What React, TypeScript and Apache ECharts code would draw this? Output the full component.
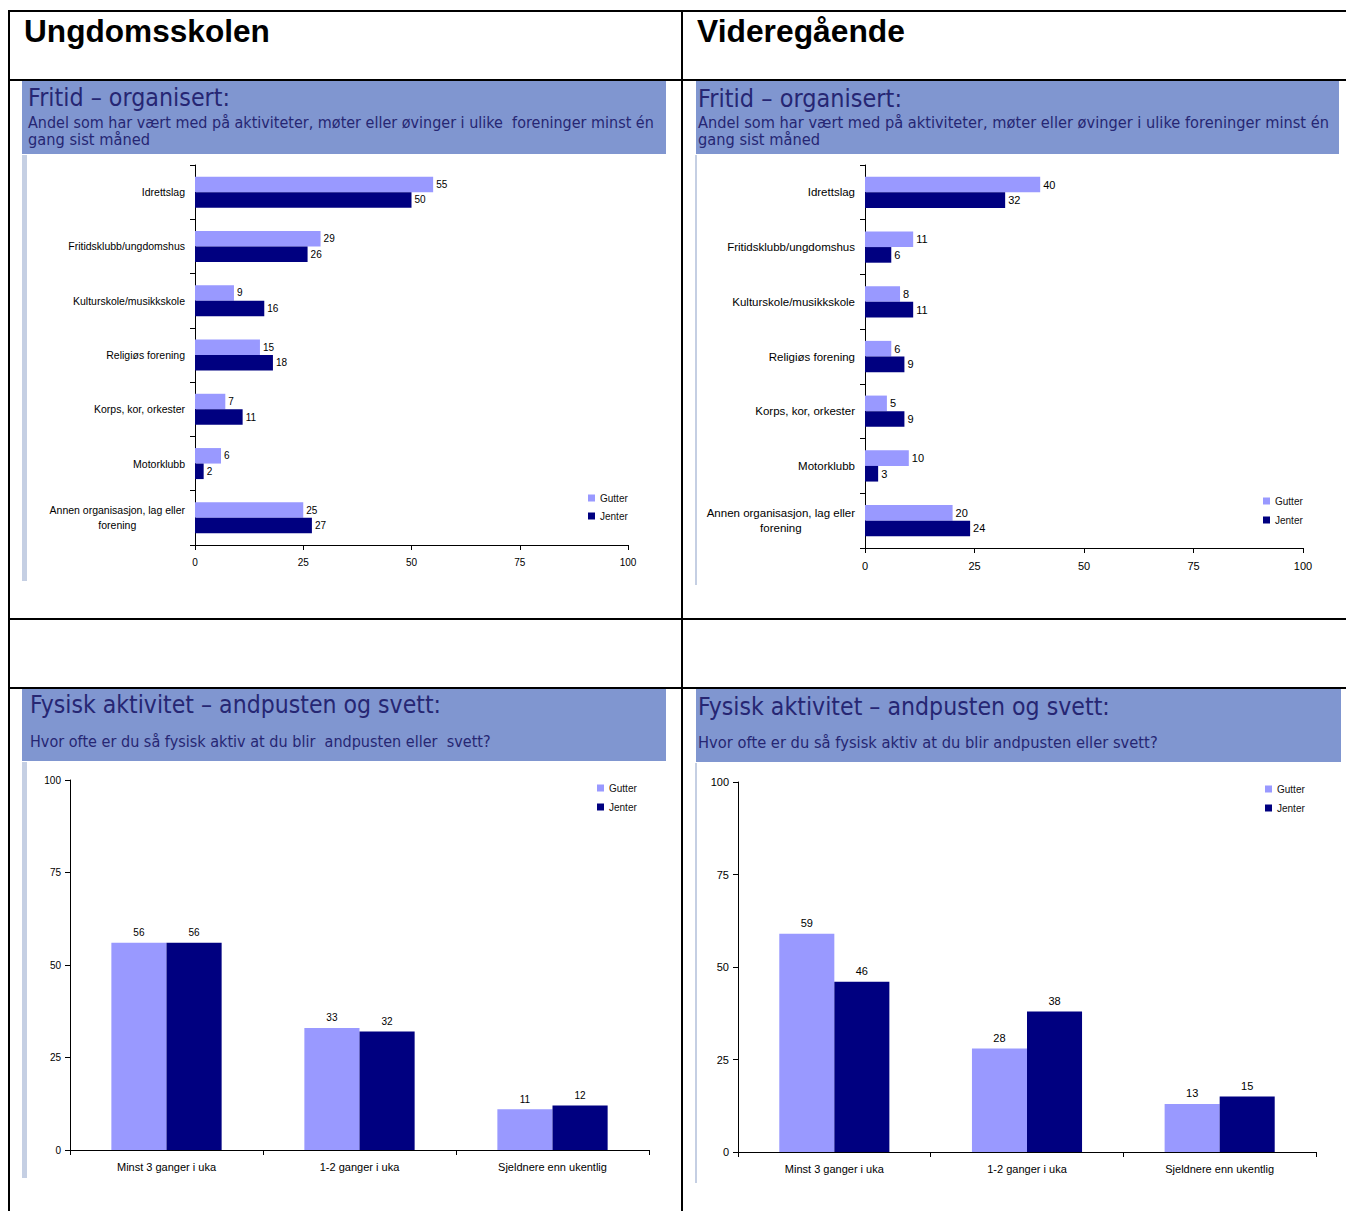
import React, { useEffect, useRef } from 'react';
import * as echarts from 'echarts';

// ---------- Data ----------
const fritidCategories = [
  'Idrettslag',
  'Fritidsklubb/ungdomshus',
  'Kulturskole/musikkskole',
  'Religiøs forening',
  'Korps, kor, orkester',
  'Motorklubb',
  'Annen organisasjon, lag eller\nforening',
];
const ungFritidGutter = [55, 29, 9, 15, 7, 6, 25];
const ungFritidJenter = [50, 26, 16, 18, 11, 2, 27];
const vgsFritidGutter = [40, 11, 8, 6, 5, 10, 20];
const vgsFritidJenter = [32, 6, 11, 9, 9, 3, 24];

const aktivitetCategories = ['Minst 3 ganger i uka', '1-2 ganger i uka', 'Sjeldnere enn ukentlig'];
const ungAktivGutter = [56, 33, 11];
const ungAktivJenter = [56, 32, 12];
const vgsAktivGutter = [59, 28, 13];
const vgsAktivJenter = [46, 38, 15];

const seriesNames = ['Gutter', 'Jenter'];
const valueMin = 0;
const valueMax = 100;
const valueStep = 25;

const panelHeaders = ['Ungdomsskolen', 'Videregående'];
const fritidTitle = 'Fritid – organisert:';
const fritidSubLine1 = 'Andel som har vært med på aktiviteter, møter eller øvinger i ulike  foreninger minst én';
const fritidSubLine2 = 'gang sist måned';
const aktivTitle = 'Fysisk aktivitet – andpusten og svett:';
const aktivSub = 'Hvor ofte er du så fysisk aktiv at du blir  andpusten eller  svett?';

// ---------- Styles ----------
const GUTTER = '#9999ff';
const JENTER = '#000080';
const HEADER_FILL = '#8096d0';
const HEADER_TEXT = '#262673';
const SIDE_BAR = '#c5cfe3';
const AXIS_FONT = '"Liberation Sans", Arial, sans-serif';
const HEAD_FONT = '"DejaVu Sans", sans-serif';

let measureCtx: CanvasRenderingContext2D | null = null;
function measure(text: string, font: string): number {
  if (!measureCtx) measureCtx = document.createElement('canvas').getContext('2d');
  measureCtx!.font = font;
  return measureCtx!.measureText(text).width;
}

function fitText(text: string, x: number, y: number, size: number, target: number, color: string, family: string, weight = 'normal') {
  const font = `${weight} ${size}px ${family}`;
  const w = measure(text, font);
  return {
    type: 'text',
    x,
    y,
    scaleX: target / w,
    z: 10,
    style: { text, font, fill: color, textAlign: 'left', textVerticalAlign: 'middle', align: 'left', verticalAlign: 'middle' },
  };
}

function line(x1: number, y1: number, x2: number, y2: number) {
  return { type: 'line', z: 20, shape: { x1, y1, x2, y2 }, style: { stroke: '#000', lineWidth: 2 } };
}
function rect(x: number, y: number, w: number, h: number, fill: string) {
  return { type: 'rect', z: 1, shape: { x, y, width: w, height: h }, style: { fill } };
}

function fritidCategoryData(fontSize: number) {
  const last = fritidCategories[fritidCategories.length - 1];
  const firstLine = last.split('\n')[0];
  const w = measure(firstLine, `${fontSize}px ${AXIS_FONT}`);
  return fritidCategories.map((c, i) =>
    i === fritidCategories.length - 1 ? { value: c, textStyle: { align: 'center', padding: [0, w, 0, 0] } } : c
  );
}

const axisLineStyle = { show: true, lineStyle: { color: '#000', width: 1 } };
const axisTickStyle = { show: true, length: 5, lineStyle: { color: '#000', width: 1 } };

function valueAxis(gridIndex: number, fontSize: number, margin: number) {
  return {
    type: 'value',
    gridIndex,
    min: valueMin,
    max: valueMax,
    interval: valueStep,
    axisLine: axisLineStyle,
    axisTick: axisTickStyle,
    splitLine: { show: false },
    axisLabel: { fontSize, margin, color: '#000', fontFamily: AXIS_FONT },
  };
}

function barSeries(idx: number, name: string, data: number[], color: string, horizontal: boolean, fontSize: number) {
  return {
    type: 'bar',
    name,
    xAxisIndex: idx,
    yAxisIndex: idx,
    data,
    barGap: '0%',
    barCategoryGap: '42.86%',
    itemStyle: { color },
    label: {
      show: true,
      position: horizontal ? 'right' : 'top',
      distance: horizontal ? 3 : 5,
      fontSize,
      color: '#000',
      fontFamily: AXIS_FONT,
    },
  };
}

function legend(left: number, top: number, gap: number) {
  return {
    data: seriesNames,
    orient: 'vertical',
    left,
    top,
    padding: 0,
    itemWidth: 7,
    itemHeight: 7,
    itemGap: gap,
    icon: 'rect',
    selectedMode: false,
    textStyle: { fontSize: 10, color: '#111', fontFamily: AXIS_FONT },
  };
}

export default function App() {
  const ref = useRef<HTMLDivElement>(null);
  useEffect(() => {
    if (!ref.current) return;
    const chart = echarts.init(ref.current, undefined, { renderer: 'svg' });

    const graphics: any[] = [
      // header boxes
      rect(22, 81, 644, 73, HEADER_FILL),
      rect(696, 81, 643, 73, HEADER_FILL),
      rect(22, 689, 644, 72, HEADER_FILL),
      rect(696, 689, 645, 73, HEADER_FILL),
      // side bars
      rect(22, 155, 5, 426, SIDE_BAR),
      rect(695, 155, 2, 430, SIDE_BAR),
      rect(22, 762, 5, 416, SIDE_BAR),
      rect(695, 763, 2, 420, SIDE_BAR),
      // table borders
      line(8, 11, 1346, 11),
      line(9, 10, 9, 1211),
      line(682, 10, 682, 1211),
      line(8, 80, 1346, 80),
      line(8, 619, 1346, 619),
      line(8, 688, 1346, 688),
      // panel headers
      fitText(panelHeaders[0], 24, 31, 32, 246, '#000', '"Liberation Sans", Arial, sans-serif', 'bold'),
      fitText(panelHeaders[1], 697, 31, 32, 208, '#000', '"Liberation Sans", Arial, sans-serif', 'bold'),
      // Fritid headers
      fitText(fritidTitle, 28, 98, 24, 202, HEADER_TEXT, HEAD_FONT),
      fitText(fritidSubLine1, 28, 122, 15, 626, HEADER_TEXT, HEAD_FONT),
      fitText(fritidSubLine2, 28, 139, 15, 122, HEADER_TEXT, HEAD_FONT),
      fitText(fritidTitle, 698, 98, 24, 204, HEADER_TEXT, HEAD_FONT),
      fitText(fritidSubLine1.replace('  ', ' '), 698, 122, 15, 631, HEADER_TEXT, HEAD_FONT),
      fitText(fritidSubLine2, 698, 139, 15, 122, HEADER_TEXT, HEAD_FONT),
      // Aktivitet headers
      fitText(aktivTitle, 30, 705, 24, 411, HEADER_TEXT, HEAD_FONT),
      fitText(aktivSub, 30, 741, 15, 461, HEADER_TEXT, HEAD_FONT),
      fitText(aktivTitle, 698, 707, 24, 412, HEADER_TEXT, HEAD_FONT),
      fitText(aktivSub.replace(/  /g, ' '), 698, 743, 15, 460, HEADER_TEXT, HEAD_FONT),
    ];

    const option: any = {
      animation: false,
      backgroundColor: '#fff',
      textStyle: { fontFamily: AXIS_FONT },
      grid: [
        { left: 195, top: 165, width: 433, height: 380 },
        { left: 865, top: 165, width: 438, height: 383 },
        { left: 70, top: 780, width: 579, height: 370 },
        { left: 738, top: 782, width: 578, height: 370 },
      ],
      xAxis: [
        valueAxis(0, 10, 12),
        valueAxis(1, 11, 12),
        {
          type: 'category',
          gridIndex: 2,
          data: aktivitetCategories,
          axisLine: axisLineStyle,
          axisTick: axisTickStyle,
          axisLabel: { fontSize: 11, margin: 11, color: '#000', fontFamily: AXIS_FONT },
        },
        {
          type: 'category',
          gridIndex: 3,
          data: aktivitetCategories,
          axisLine: axisLineStyle,
          axisTick: axisTickStyle,
          axisLabel: { fontSize: 11, margin: 11, color: '#000', fontFamily: AXIS_FONT },
        },
      ],
      yAxis: [
        {
          type: 'category',
          gridIndex: 0,
          inverse: true,
          data: fritidCategoryData(10.5),
          axisLine: axisLineStyle,
          axisTick: axisTickStyle,
          axisLabel: { fontSize: 10.5, margin: 10, color: '#000', lineHeight: 15, fontFamily: AXIS_FONT },
        },
        {
          type: 'category',
          gridIndex: 1,
          inverse: true,
          data: fritidCategoryData(11.5),
          axisLine: axisLineStyle,
          axisTick: axisTickStyle,
          axisLabel: { fontSize: 11.5, margin: 10, color: '#000', lineHeight: 15, fontFamily: AXIS_FONT },
        },
        valueAxis(2, 10, 9),
        valueAxis(3, 11, 9),
      ],
      legend: [
        legend(588, 493, 8),
        legend(1263, 496, 9),
        legend(597, 783, 9),
        legend(1265, 784, 9),
      ],
      series: [
        barSeries(0, seriesNames[0], ungFritidGutter, GUTTER, true, 10),
        barSeries(0, seriesNames[1], ungFritidJenter, JENTER, true, 10),
        barSeries(1, seriesNames[0], vgsFritidGutter, GUTTER, true, 11),
        barSeries(1, seriesNames[1], vgsFritidJenter, JENTER, true, 11),
        barSeries(2, seriesNames[0], ungAktivGutter, GUTTER, false, 10),
        barSeries(2, seriesNames[1], ungAktivJenter, JENTER, false, 10),
        barSeries(3, seriesNames[0], vgsAktivGutter, GUTTER, false, 11),
        barSeries(3, seriesNames[1], vgsAktivJenter, JENTER, false, 11),
      ],
      graphic: { elements: graphics },
    };
    chart.setOption(option);
    return () => chart.dispose();
  }, []);

  return (
    <div
      ref={ref}
      style={{ position: 'absolute', left: 0, top: 0, width: 1346, height: 1211, background: '#fff' }}
    />
  );
}
